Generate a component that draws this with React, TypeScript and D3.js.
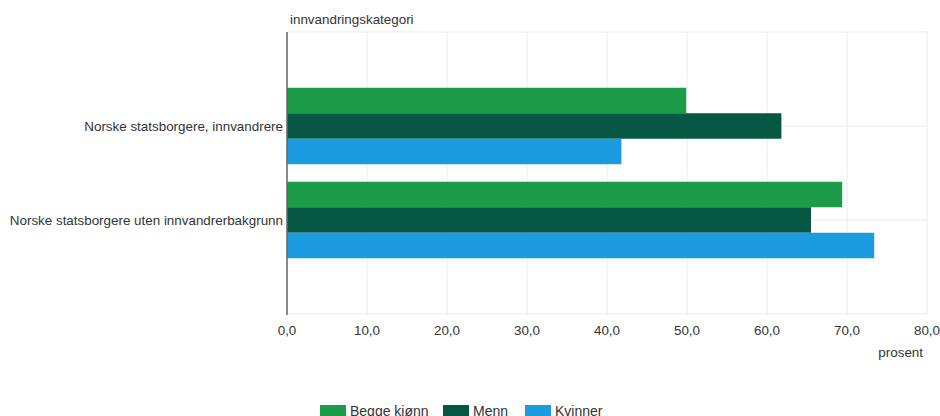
import React, { useEffect, useRef } from 'react';
import * as d3 from 'd3';

const categories = ['Norske statsborgere, innvandrere', 'Norske statsborgere uten innvandrerbakgrunn'];
const seriesNames = ['Begge kjønn', 'Menn', 'Kvinner'];
const beggeKjonn = [49.9, 69.4];
const menn = [61.8, 65.5];
const kvinner = [41.8, 73.4];
const xTicks = [0, 10, 20, 30, 40, 50, 60, 70, 80];
const colors = ['#1c9c48', '#075745', '#1c9be0'];

const App: React.FC = () => {
  const svgRef = useRef<SVGSVGElement>(null);

  useEffect(() => {
    if (!svgRef.current) return;
    const svg = d3.select(svgRef.current);
    svg.selectAll('*').remove();

    const font = '"Liberation Sans", Arial, sans-serif';
    const textColor = '#333';
    const fs = 13.4;
    const values = [beggeKjonn, menn, kvinner];

    const x = d3.scaleLinear().domain([0, 80]).range([287, 927]);
    const y = d3.scaleLinear().domain([-1, 2]).range([32, 314]);
    const inner = d3.scaleBand().domain(seriesNames).range([-38.25, 38.25]);

    // grid
    svg.append('g')
      .selectAll('line')
      .data(xTicks)
      .join('line')
        .attr('x1', d => x(d))
        .attr('x2', d => x(d))
        .attr('y1', y(-1))
        .attr('y2', y(2))
        .attr('stroke', '#e8eded')
        .attr('stroke-width', 1);

    svg.append('g')
      .selectAll('line')
      .data([-1, 0, 1, 2])
      .join('line')
        .attr('x1', x(0))
        .attr('x2', x(80))
        .attr('y1', d => y(d))
        .attr('y2', d => y(d))
        .attr('stroke', '#e8eded')
        .attr('stroke-width', 1);

    // bars
    seriesNames.forEach((name, si) => {
      svg.append('g')
        .selectAll('rect')
        .data(values[si])
        .join('rect')
          .attr('x', x(0))
          .attr('y', (d, i) => y(i) + (inner(name) as number))
          .attr('width', d => x(d) - x(0))
          .attr('height', inner.bandwidth())
          .attr('fill', colors[si]);
    });

    // axis line
    svg.append('line')
      .attr('x1', x(0))
      .attr('x2', x(0))
      .attr('y1', y(-1))
      .attr('y2', y(2) + 1)
      .attr('stroke', '#666')
      .attr('stroke-width', 1.5);

    // x tick labels
    svg.append('g')
      .attr('font-family', font)
      .attr('font-size', fs)
      .attr('fill', textColor)
      .attr('text-anchor', 'middle')
      .selectAll('text')
      .data(xTicks)
      .join('text')
        .attr('x', d => x(d))
        .attr('y', 335)
        .text(d => d3.format('.1f')(d).replace('.', ','));

    svg.append('text')
      .attr('x', 923)
      .attr('y', 357)
      .attr('text-anchor', 'end')
      .attr('font-family', font)
      .attr('font-size', fs)
      .attr('fill', textColor)
      .text('prosent');

    // category labels
    svg.append('g')
      .attr('font-family', font)
      .attr('font-size', fs)
      .attr('fill', textColor)
      .attr('text-anchor', 'end')
      .selectAll('text')
      .data(categories)
      .join('text')
        .attr('x', 283)
        .attr('y', (d, i) => y(i))
        .attr('dy', '0.35em')
        .text(d => d);

    svg.append('text')
      .attr('x', 290)
      .attr('y', 24)
      .attr('font-family', font)
      .attr('font-size', fs)
      .attr('fill', textColor)
      .text('innvandringskategori');

    // legend
    const legendX = [320, 443, 525];
    const legend = svg.append('g')
      .attr('font-family', font)
      .attr('font-size', 14)
      .attr('fill', textColor)
      .selectAll('g')
      .data(seriesNames)
      .join('g')
        .attr('transform', (d, i) => `translate(${legendX[i]},405)`);

    legend.append('rect')
      .attr('width', 26)
      .attr('height', 12)
      .attr('fill', (d, i) => colors[i]);

    legend.append('text')
      .attr('x', 30)
      .attr('y', 11)
      .text(d => d);
  }, []);

  return (
    <svg
      ref={svgRef}
      width={940}
      height={416}
      style={{ position: 'absolute', left: 0, top: 0, background: '#fff' }}
    />
  );
};

export default App;
